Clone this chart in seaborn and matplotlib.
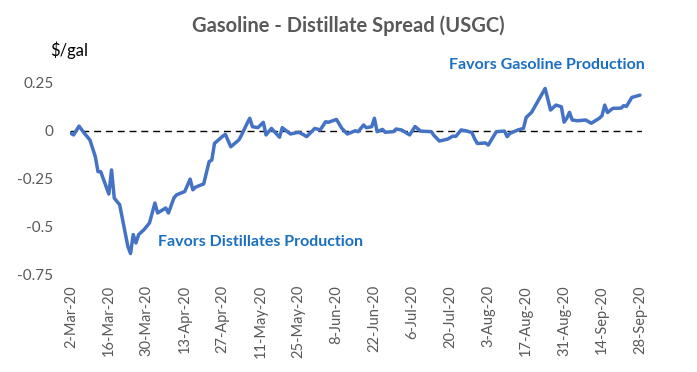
import matplotlib
matplotlib.use("Agg")
import matplotlib.pyplot as plt
import seaborn as sns
import pandas as pd

dates = [
    "2020-03-02", "2020-03-03", "2020-03-05", "2020-03-07", "2020-03-09", "2020-03-11",
    "2020-03-12", "2020-03-13", "2020-03-16", "2020-03-17", "2020-03-18", "2020-03-19",
    "2020-03-20", "2020-03-23", "2020-03-24", "2020-03-25", "2020-03-26", "2020-03-27",
    "2020-03-29", "2020-03-31", "2020-04-02", "2020-04-03", "2020-04-06", "2020-04-07",
    "2020-04-09", "2020-04-10", "2020-04-13", "2020-04-15", "2020-04-16", "2020-04-17",
    "2020-04-20", "2020-04-22", "2020-04-23", "2020-04-24", "2020-04-27", "2020-04-28",
    "2020-04-30", "2020-05-03", "2020-05-04", "2020-05-06", "2020-05-07", "2020-05-08",
    "2020-05-10", "2020-05-12", "2020-05-13", "2020-05-15", "2020-05-18", "2020-05-19",
    "2020-05-22", "2020-05-25", "2020-05-27", "2020-05-28", "2020-05-31", "2020-06-02",
    "2020-06-04", "2020-06-05", "2020-06-08", "2020-06-10", "2020-06-12", "2020-06-15",
    "2020-06-16", "2020-06-18", "2020-06-19", "2020-06-21", "2020-06-22", "2020-06-23",
    "2020-06-25", "2020-06-26", "2020-06-29", "2020-06-30", "2020-07-02", "2020-07-05",
    "2020-07-07", "2020-07-09", "2020-07-13", "2020-07-14", "2020-07-16", "2020-07-19",
    "2020-07-21", "2020-07-22", "2020-07-24", "2020-07-26", "2020-07-28", "2020-07-29",
    "2020-07-30", "2020-08-02", "2020-08-03", "2020-08-06", "2020-08-09", "2020-08-10",
    "2020-08-11", "2020-08-14", "2020-08-16", "2020-08-17", "2020-08-19", "2020-08-24",
    "2020-08-26", "2020-08-28", "2020-08-30", "2020-08-31", "2020-09-01", "2020-09-02",
    "2020-09-03", "2020-09-05", "2020-09-08", "2020-09-10", "2020-09-13", "2020-09-14",
    "2020-09-15", "2020-09-16", "2020-09-18", "2020-09-21", "2020-09-22", "2020-09-23",
    "2020-09-25", "2020-09-28",
]
spread = [
    -0.015, -0.023, 0.023, -0.015, -0.049, -0.136,
    -0.215, -0.215, -0.332, -0.206, -0.353, -0.371,
    -0.388, -0.605, -0.643, -0.544, -0.588, -0.544,
    -0.518, -0.483, -0.379, -0.431, -0.405, -0.431,
    -0.353, -0.336, -0.319, -0.254, -0.310, -0.296,
    -0.279, -0.163, -0.154, -0.067, -0.030, -0.020,
    -0.085, -0.049, -0.023, 0.037, 0.064, 0.020,
    0.015, 0.043, -0.023, 0.011, -0.035, 0.015,
    -0.018, -0.009, -0.023, -0.032, 0.011, 0.003,
    0.046, 0.043, 0.058, 0.011, -0.018, -0.001,
    -0.006, 0.029, 0.015, 0.020, 0.064, -0.006,
    0.006, -0.009, -0.006, 0.008, 0.003, -0.023,
    0.021, -0.003, -0.006, -0.026, -0.055, -0.045,
    -0.029, -0.031, 0.003, -0.002, -0.011, -0.044,
    -0.068, -0.065, -0.076, -0.006, -0.003, -0.032,
    -0.015, 0.003, 0.011, 0.068, 0.095, 0.220,
    0.107, 0.133, 0.124, 0.044, 0.064, 0.095,
    0.055, 0.051, 0.055, 0.038, 0.064, 0.078,
    0.133, 0.094, 0.116, 0.117, 0.130, 0.126,
    0.173, 0.185,
]
y_ticks = [0.25, 0, -0.25, -0.5, -0.75]
y_tick_labels = ["0.25", "0", "-0.25", "-0.5", "-0.75"]

title = "Gasoline - Distillate Spread (USGC)"
unit_label = "$/gal"
note_up = "Favors Gasoline Production"
note_down = "Favors Distillates Production"

df = pd.DataFrame({"date": pd.to_datetime(dates), "spread": spread})

sns.set_theme(style="white")
plt.rcParams["font.family"] = ["Lato", "DejaVu Sans"]

W, H = 697, 372
fig = plt.figure(figsize=(W / 100, H / 100), dpi=100)
ax = fig.add_axes([70 / W, 1 - 274 / H, (642 - 70) / W, (274 - 82.7) / H])

ax.axhline(0, color="black", lw=1.0, ls=(0, (5, 3.5)), zorder=1)
sns.lineplot(data=df, x="date", y="spread", ax=ax, color="#4472C4", lw=2.5, zorder=2)

ax.set_xlim(pd.Timestamp("2020-03-01 16:00"), pd.Timestamp("2020-09-28 18:00"))
ax.set_ylim(-0.75, 0.25)
ax.set_yticks(y_ticks)
ax.set_yticklabels(y_tick_labels)
xt = pd.date_range("2020-03-02", "2020-09-28", freq="14D")
ax.set_xticks(xt)
ax.set_xticklabels([f"{d.day}-{d.strftime('%b')}-20" for d in xt], rotation=90)
ax.tick_params(axis="y", length=0, pad=12, labelsize=11, labelcolor="#595959")
ax.tick_params(axis="x", length=0, pad=8, labelsize=10.5, labelcolor="#595959")
ax.set_xlabel("")
ax.set_ylabel("")
for s in ax.spines.values():
    s.set_visible(False)
ax.grid(False)

fig.text(348 / W, 1 - 26 / H, title, ha="center", va="center", fontsize=14.5,
         fontweight="bold", color="#595959")
fig.text(50 / W, 1 - 50 / H, unit_label, ha="left", va="center", fontsize=12, color="black")
fig.text(645 / W, 1 - 65 / H, note_up, ha="right", va="center", fontsize=11.5,
         fontweight="bold", color="#1A6FC0")
fig.text(158 / W, 1 - 242 / H, note_down, ha="left", va="center", fontsize=11.5,
         fontweight="bold", color="#1A6FC0")

fig.savefig("out.png", dpi=100)
